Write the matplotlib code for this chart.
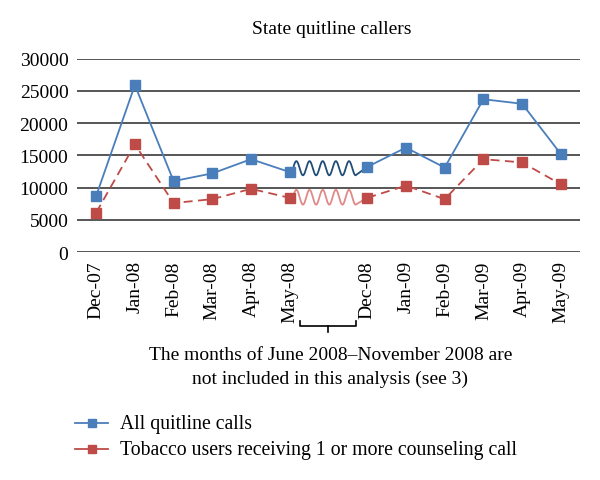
import numpy as np
import matplotlib
matplotlib.use("Agg")
import matplotlib.pyplot as plt
from matplotlib.lines import Line2D

plt.rcParams['font.family'] = ['Liberation Serif', 'DejaVu Serif']

categories = ["Dec-07", "Jan-08", "Feb-08", "Mar-08", "Apr-08", "May-08", "",
              "Dec-08", "Jan-09", "Feb-09", "Mar-09", "Apr-09", "May-09"]
all_calls = [8700, 25900, 11000, 12200, 14400, 12400, None,
             13200, 16200, 13100, 23700, 23000, 15200]
tobacco_users = [6100, 16700, 7600, 8200, 9800, 8400, None,
                 8400, 10300, 8200, 14400, 13900, 10500]
yticks = [0, 5000, 10000, 15000, 20000, 25000, 30000]

blue = "#4a7ebb"
red = "#be4b48"
dark_blue = "#1f4e79"
light_red = "#e08a88"
fs = 14

fig = plt.figure(figsize=(6, 4.81), dpi=100)
ax = fig.add_axes([0.128, 0.474, 0.839, 0.402])

x = np.arange(len(categories))

def segs(vals):
    out = []
    cur = []
    for i, v in enumerate(vals):
        if v is None:
            if cur:
                out.append(cur)
            cur = []
        else:
            cur.append((i, v))
    if cur:
        out.append(cur)
    return out

for seg in segs(all_calls):
    xs, ys = zip(*seg)
    ax.plot(xs, ys, color=blue, lw=1.3, marker='s', ms=6.5, mfc=blue, mec=blue, zorder=3)
for seg in segs(tobacco_users):
    xs, ys = zip(*seg)
    ax.plot(xs, ys, color=red, lw=1.3, ls=(0, (5, 3)), marker='s', ms=6.5, mfc=red, mec=red, zorder=3)

# squiggle decorations for the omitted months
def squiggle(y0, y1, center, amp, color):
    t = np.linspace(0, 1, 400)
    xs0, xs1 = 5.0, 6.7
    xx = xs0 + (xs1 - xs0) * t
    wave = center + amp * np.sin(2 * np.pi * 5.0 * t + np.pi / 2)
    blend = np.clip(t / 0.06, 0, 1)
    yy = np.where(t < 0.06, y0 + (wave - y0) * blend, wave)
    ax.plot(np.r_[xx, 7.0], np.r_[yy, y1], color=color, lw=1.3, zorder=2)

squiggle(all_calls[5], all_calls[7], 13000, -1100, dark_blue)
squiggle(tobacco_users[5], tobacco_users[7], 8500, -1150, light_red)

ax.set_xlim(-0.5, len(categories) - 0.5)
ax.set_ylim(0, 30000)
ax.set_yticks(yticks)
ax.set_yticklabels([str(v) for v in yticks], fontsize=fs)
ax.set_xticks(x)
ax.set_xticklabels(categories, rotation=90, fontsize=fs)
ax.tick_params(length=0, pad=6)
ax.grid(axis='y', color='#3a3a3a', lw=1.2)
ax.set_axisbelow(True)
for s in ax.spines.values():
    s.set_visible(False)

W, H = 600, 481
def fx(px): return px / W
def fy(py): return 1 - py / H

fig.text(fx(332), fy(30), "State quitline callers", ha='center', va='center', fontsize=fs)

# bracket
bx0, bx1, by = 300, 356, 327
fig.add_artist(Line2D([fx(bx0), fx(bx0), fx(bx1), fx(bx1)],
                      [fy(321.5), fy(by), fy(by), fy(321.5)], color='black', lw=1.2))
fig.add_artist(Line2D([fx(328), fx(328)], [fy(by), fy(333)], color='black', lw=1.2))

fig.text(fx(331), fy(356), "The months of June 2008\u2013November 2008 are",
         ha='center', va='center', fontsize=fs)
fig.text(fx(330), fy(379), "not included in this analysis (see 3)",
         ha='center', va='center', fontsize=fs)

# legend
for py, col, lab in [(424, blue, "All quitline calls"),
                     (450, red, "Tobacco users receiving 1 or more counseling call")]:
    fig.add_artist(Line2D([fx(75), fx(108)], [fy(py), fy(py)], color=col, lw=1.3))
    fig.add_artist(Line2D([fx(92)], [fy(py)], color=col, marker='s', ms=5.5, lw=0))
    fig.text(fx(120), fy(py), lab, ha='left', va='center', fontsize=14.2)

fig.savefig("out.png", dpi=100)
